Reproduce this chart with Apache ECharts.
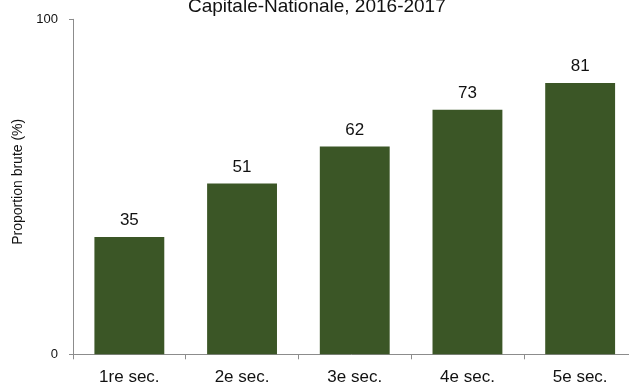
<!DOCTYPE html>
<html>
<head>
<meta charset="utf-8">
<style>
  html, body { margin: 0; padding: 0; background: #fff; }
  #chart { width: 629px; height: 387px; }
</style>
<script src="https://cdn.jsdelivr.net/npm/echarts@6/dist/echarts.min.js"></script>
</head>
<body>
<div id="chart"></div>
<script>
// Proportion brute by secondary-school grade, Capitale-Nationale 2016-2017
const titleText = 'Capitale-Nationale, 2016-2017';
const categories = ['1re sec.', '2e sec.', '3e sec.', '4e sec.', '5e sec.'];
const values = [35, 51, 62, 73, 81];
const yTicks = [0, 100];
const yName = 'Proportion brute (%)';

const font = '"Liberation Sans", Arial, sans-serif';
const axisColor = '#8c8c8c';

const chart = echarts.init(document.getElementById('chart'), null, { renderer: 'canvas' });
chart.setOption({
  animation: false,
  backgroundColor: '#ffffff',
  title: {
    text: titleText,
    left: 188,
    top: -3,
    padding: 0,
    textStyle: { fontFamily: font, fontSize: 19, fontWeight: 'normal', color: '#111' }
  },
  grid: { left: 73, top: 19.3, width: 563.5, height: 335, outerBoundsMode: 'none', containLabel: false },
  xAxis: {
    type: 'category',
    data: categories,
    axisLine: { lineStyle: { color: axisColor, width: 1 } },
    axisTick: { show: true, length: 5, alignWithLabel: false, lineStyle: { color: axisColor } },
    axisLabel: { margin: 15, fontFamily: font, fontSize: 17, color: '#111' }
  },
  yAxis: {
    type: 'value',
    min: yTicks[0],
    max: yTicks[yTicks.length - 1],
    interval: yTicks[1] - yTicks[0],
    name: yName,
    nameLocation: 'middle',
    nameGap: 42,
    nameTextStyle: { fontFamily: font, fontSize: 14, color: '#111', padding: [0, 0, 0, 10] },
    splitLine: { show: false },
    axisLine: { show: true, lineStyle: { color: axisColor, width: 1 } },
    axisTick: { show: true, length: 4, lineStyle: { color: axisColor } },
    axisLabel: { margin: 15, fontFamily: font, fontSize: 13, color: '#111' }
  },
  series: [{
    type: 'bar',
    data: values,
    barCategoryGap: '38%',
    itemStyle: { color: '#3b5626' },
    label: {
      show: true,
      position: 'top',
      distance: 8,
      fontFamily: font,
      fontSize: 17,
      color: '#111'
    }
  }]
});
</script>
</body>
</html>
